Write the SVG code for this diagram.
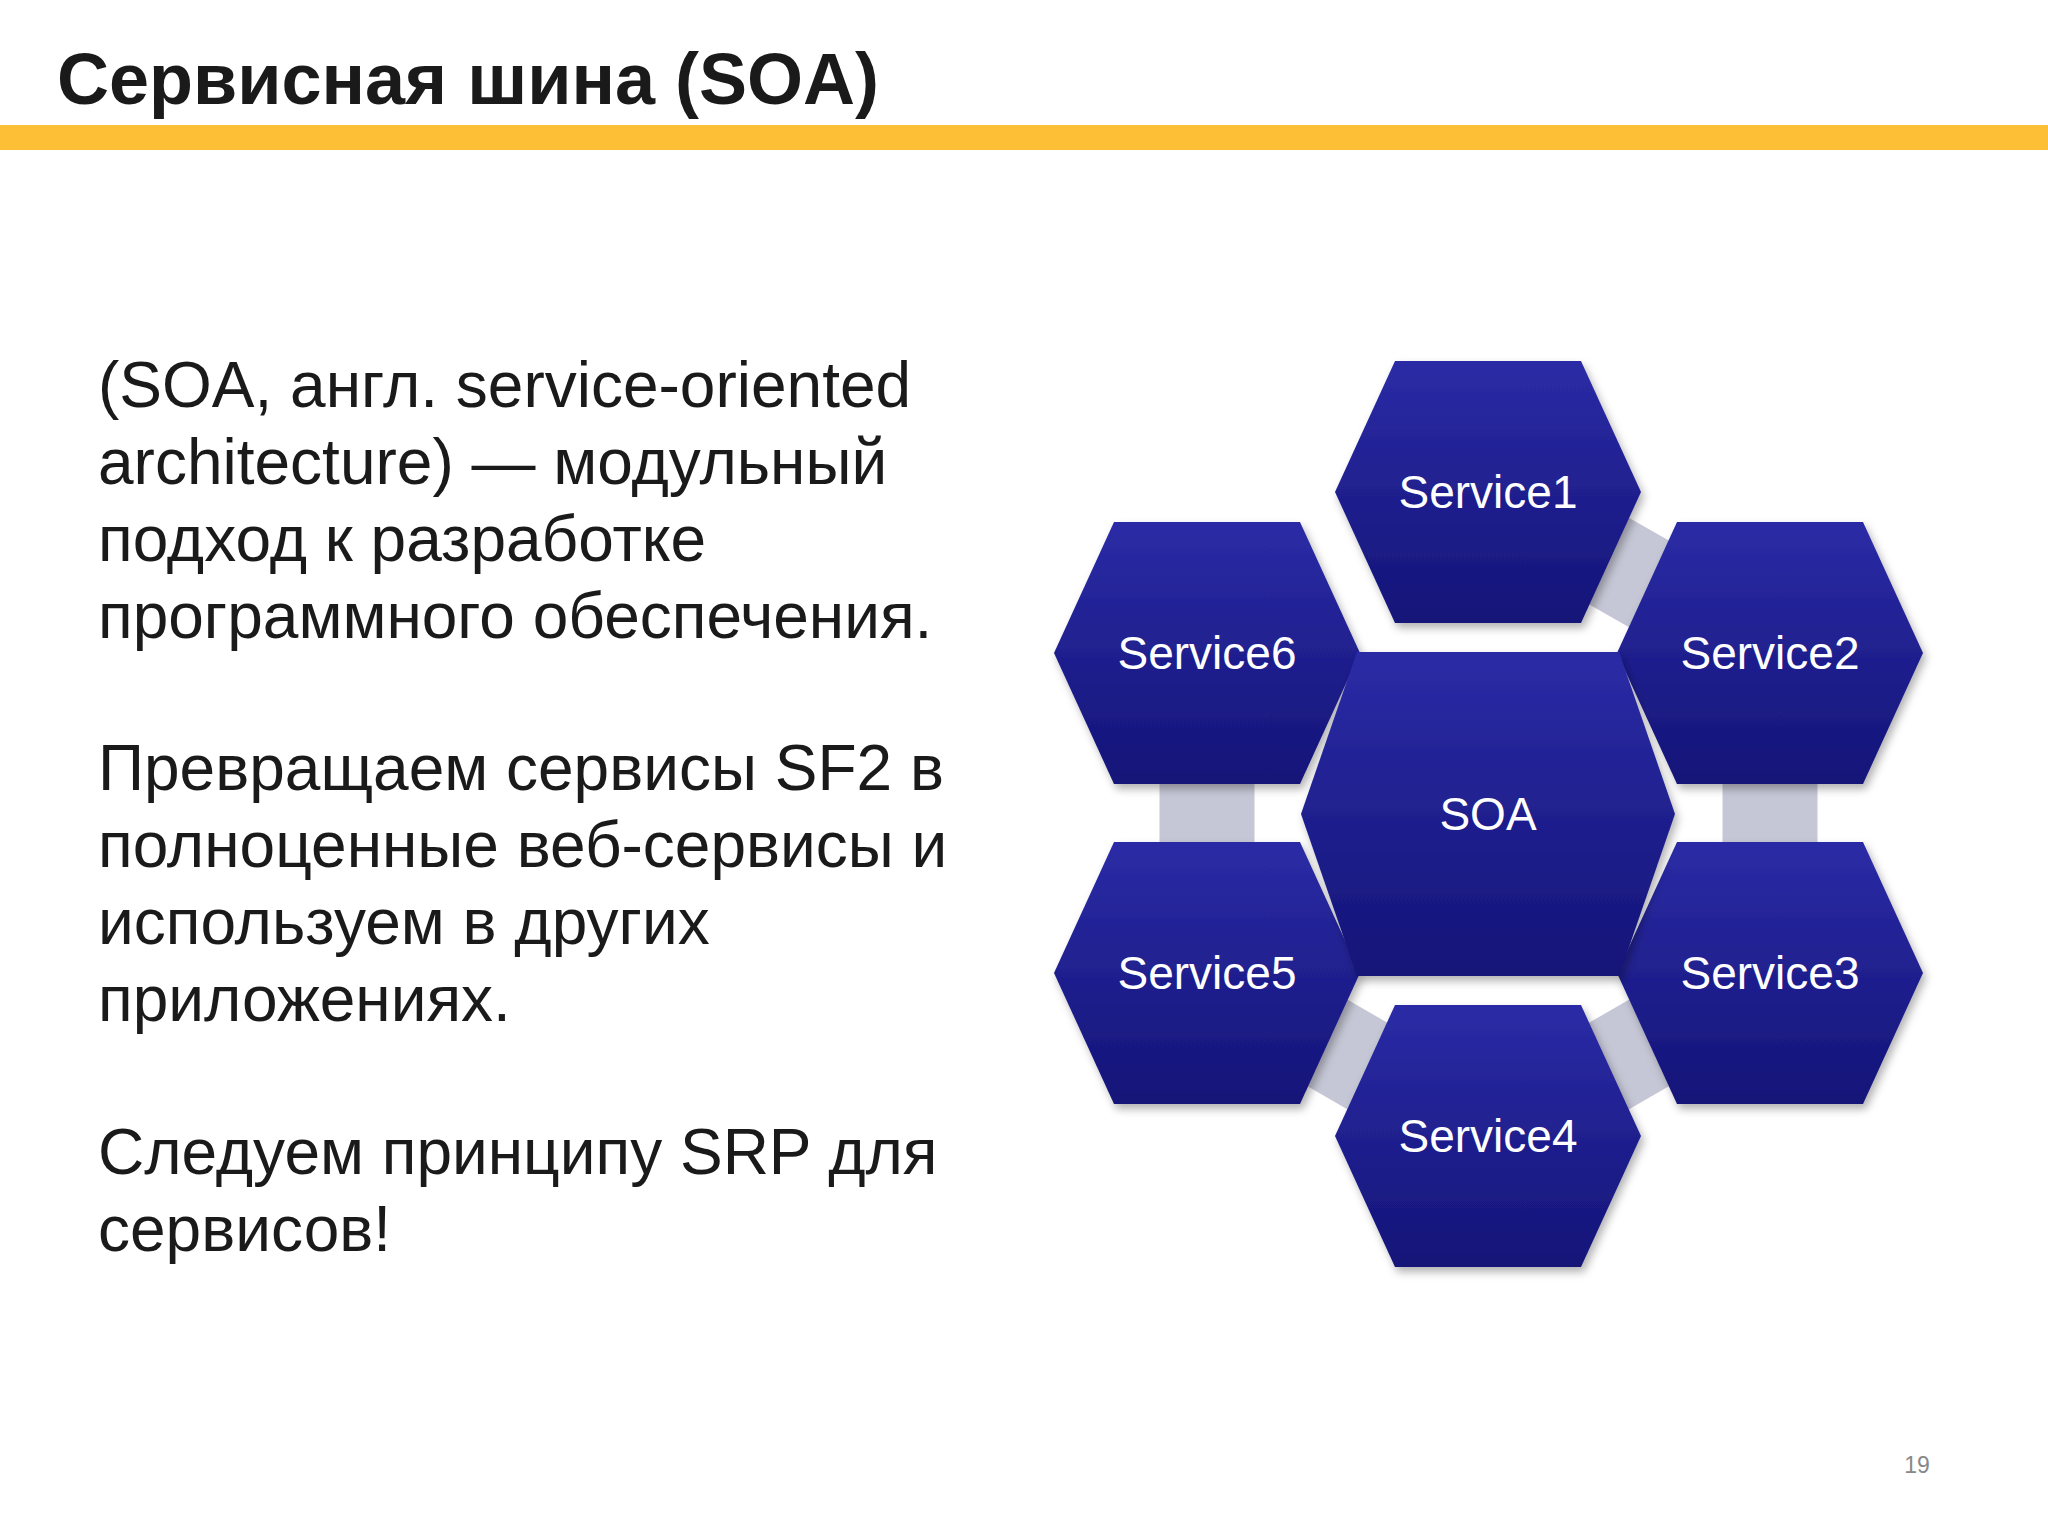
<svg xmlns="http://www.w3.org/2000/svg" width="2048" height="1536" viewBox="0 0 2048 1536">
<defs>
<linearGradient id="hg" x1="0" y1="0" x2="0" y2="1"><stop offset="0" stop-color="#2b2ba6"/><stop offset="1" stop-color="#141478"/></linearGradient>
<filter id="sh" x="-10%" y="-10%" width="130%" height="130%"><feDropShadow dx="3" dy="5" stdDeviation="4" flood-color="#000" flood-opacity="0.3"/></filter>
<style>
.t{font-family:"Liberation Sans",Arial,sans-serif;fill:#1a1a1a;font-size:64px}
.h{fill:url(#hg);filter:url(#sh)}
.l{font-family:"Liberation Sans",Arial,sans-serif;fill:#fff;font-size:46px;text-anchor:middle}
.c{stroke:#c6c7d6;stroke-width:95;fill:none}
</style>
</defs>
<rect width="2048" height="1536" fill="#fff"/>
<text x="57" y="104" font-family="Liberation Sans,Arial,sans-serif" font-weight="bold" font-size="72" fill="#1a1a1a">Сервисная шина (SOA)</text>
<rect x="0" y="125" width="2048" height="25" fill="#fdbf35"/>
<text class="t"><tspan x="98" y="407">(SOA, англ. service-oriented</tspan><tspan x="98" y="484">architecture) — модульный</tspan><tspan x="98" y="561">подход к разработке</tspan><tspan x="98" y="638">программного обеспечения.</tspan><tspan x="98" y="790">Превращаем сервисы SF2 в</tspan><tspan x="98" y="867">полноценные веб-сервисы и</tspan><tspan x="98" y="944">используем в других</tspan><tspan x="98" y="1021">приложениях.</tspan><tspan x="98" y="1174">Следуем принципу SRP для</tspan><tspan x="98" y="1251">сервисов!</tspan></text>
<text x="1917" y="1473" font-family="Liberation Sans,Arial,sans-serif" font-size="23" fill="#888" text-anchor="middle">19</text>
<g id="connectors">
<line class="c" x1="1488" y1="492" x2="1770" y2="653"/>
<line class="c" x1="1770" y1="653" x2="1770" y2="973"/>
<line class="c" x1="1770" y1="973" x2="1488" y2="1136"/>
<line class="c" x1="1488" y1="1136" x2="1207" y2="973"/>
<line class="c" x1="1207" y1="973" x2="1207" y2="653"/>
</g>
<g id="service1"><polygon class="h" points="1395,361 1581,361 1641,492 1581,623 1395,623 1335,492"/><text class="l" x="1488" y="508">Service1</text></g>
<g id="service2"><polygon class="h" points="1677,522 1863,522 1923,653 1863,784 1677,784 1617,653"/><text class="l" x="1770" y="669">Service2</text></g>
<g id="service3"><polygon class="h" points="1677,842 1863,842 1923,973 1863,1104 1677,1104 1617,973"/><text class="l" x="1770" y="989">Service3</text></g>
<g id="service4"><polygon class="h" points="1395,1005 1581,1005 1641,1136 1581,1267 1395,1267 1335,1136"/><text class="l" x="1488" y="1152">Service4</text></g>
<g id="service5"><polygon class="h" points="1114,842 1300,842 1360,973 1300,1104 1114,1104 1054,973"/><text class="l" x="1207" y="989">Service5</text></g>
<g id="service6"><polygon class="h" points="1114,522 1300,522 1360,653 1300,784 1114,784 1054,653"/><text class="l" x="1207" y="669">Service6</text></g>
<g id="soa"><polygon class="h" points="1357,652 1619,652 1675,814 1619,976 1357,976 1301,814"/><text class="l" x="1488" y="830">SOA</text></g>
</svg>
